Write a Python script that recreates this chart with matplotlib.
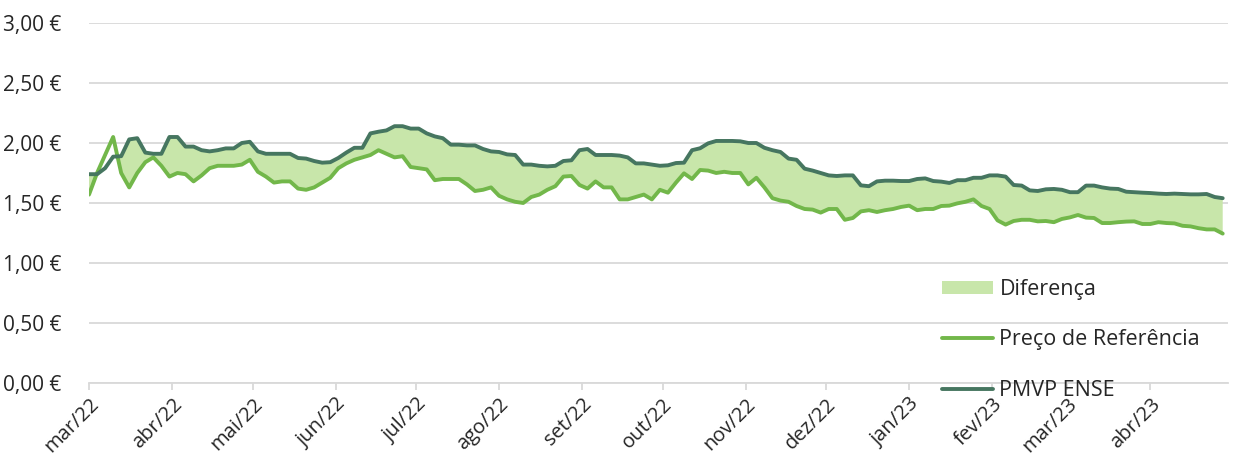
import numpy as np
import matplotlib
matplotlib.use('Agg')
import matplotlib.pyplot as plt
from matplotlib.ticker import FuncFormatter, MultipleLocator

# sampled every 3 days from 1 Mar 2022
start_date = '2022-03-01'
step_days = 3

pmvp_ense = [
    1.74, 1.74, 1.79, 1.886, 1.89, 2.03, 2.04, 1.92, 1.91, 1.91,
    2.05, 2.05, 1.97, 1.97, 1.94, 1.93, 1.94, 1.955, 1.955, 2.00,
    2.01, 1.93, 1.91, 1.91, 1.91, 1.91, 1.875, 1.87, 1.85, 1.836,
    1.84, 1.875, 1.92, 1.96, 1.96, 2.08, 2.094, 2.105, 2.14, 2.14,
    2.12, 2.12, 2.08, 2.055, 2.04, 1.986, 1.986, 1.98, 1.98, 1.95,
    1.93, 1.925, 1.905, 1.90, 1.82, 1.82, 1.81, 1.805, 1.81, 1.85,
    1.856, 1.94, 1.95, 1.90, 1.90, 1.90, 1.895, 1.88, 1.83, 1.83,
    1.82, 1.81, 1.814, 1.833, 1.836, 1.94, 1.956, 1.997, 2.017, 2.017,
    2.017, 2.014, 2.0, 2.0, 1.96, 1.94, 1.925, 1.87, 1.86, 1.786,
    1.77, 1.75, 1.73, 1.725, 1.73, 1.73, 1.647, 1.64, 1.68, 1.686,
    1.686, 1.683, 1.683, 1.70, 1.705, 1.683, 1.678, 1.667, 1.69, 1.69,
    1.71, 1.71, 1.73, 1.73, 1.72, 1.65, 1.645, 1.605, 1.60, 1.614,
    1.617, 1.61, 1.59, 1.59, 1.645, 1.645, 1.63, 1.62, 1.617, 1.594,
    1.59, 1.586, 1.583, 1.578, 1.575, 1.578, 1.575, 1.572, 1.572, 1.575,
    1.55, 1.54,
]

preco_referencia = [
    1.57, 1.75, 1.90, 2.05, 1.75, 1.63, 1.75, 1.84, 1.88, 1.81,
    1.72, 1.75, 1.74, 1.68, 1.73, 1.79, 1.81, 1.81, 1.81, 1.82,
    1.86, 1.76, 1.72, 1.67, 1.68, 1.68, 1.62, 1.61, 1.63, 1.67,
    1.71, 1.79, 1.83, 1.86, 1.88, 1.90, 1.94, 1.91, 1.88, 1.89,
    1.80, 1.79, 1.78, 1.69, 1.70, 1.70, 1.70, 1.655, 1.60, 1.61,
    1.63, 1.56, 1.53, 1.51, 1.50, 1.55, 1.57, 1.61, 1.64, 1.72,
    1.725, 1.65, 1.62, 1.68, 1.63, 1.63, 1.53, 1.53, 1.55, 1.57,
    1.53, 1.61, 1.586, 1.67, 1.747, 1.70, 1.775, 1.77, 1.75, 1.76,
    1.75, 1.75, 1.655, 1.71, 1.63, 1.54, 1.52, 1.51, 1.475, 1.45,
    1.445, 1.42, 1.45, 1.45, 1.36, 1.375, 1.43, 1.44, 1.425, 1.44,
    1.45, 1.467, 1.478, 1.44, 1.45, 1.45, 1.475, 1.478, 1.497, 1.51,
    1.53, 1.475, 1.45, 1.355, 1.32, 1.35, 1.36, 1.36, 1.347, 1.35,
    1.34, 1.367, 1.38, 1.40, 1.378, 1.375, 1.333, 1.333, 1.34, 1.345,
    1.347, 1.325, 1.325, 1.34, 1.333, 1.33, 1.31, 1.305, 1.29, 1.28,
    1.28, 1.245,
]

month_labels = ['mar/22', 'abr/22', 'mai/22', 'jun/22', 'jul/22', 'ago/22', 'set/22',
                'out/22', 'nov/22', 'dez/22', 'jan/23', 'fev/23', 'mar/23', 'abr/23']

LIGHT = '#72b74a'
DARK = '#467660'
FILL = '#c8e6aa'
GRID = '#d9d9d9'
TEXT = '#262626'

plt.rcParams['font.family'] = ['Open Sans', 'DejaVu Sans']


def euro(value, pos):
    return f'{value:.2f}'.replace('.', ',') + ' €'


def main():
    dates = np.datetime64(start_date) + np.arange(len(pmvp_ense)) * np.timedelta64(step_days, 'D')
    pmvp = np.array(pmvp_ense)
    ref = np.array(preco_referencia)

    fig = plt.figure(figsize=(12.33, 4.59), dpi=100)
    ax = fig.add_axes([0.0722, 0.1656, 0.9238, 0.7843])

    ax.fill_between(dates, ref, pmvp, where=pmvp >= ref, interpolate=True,
                    color=FILL, lw=0, label='Diferença')
    ax.plot(dates, ref, color=LIGHT, lw=2.8, label='Preço de Referência',
            solid_capstyle='round', solid_joinstyle='round')
    ax.plot(dates, pmvp, color=DARK, lw=2.8, label='PMVP ENSE',
            solid_capstyle='round', solid_joinstyle='round')

    ax.set_ylim(0, 3)
    ax.yaxis.set_major_locator(MultipleLocator(0.5))
    ax.yaxis.set_major_formatter(FuncFormatter(euro))
    ax.grid(axis='y', color=GRID, lw=1.3)
    ax.set_axisbelow(True)

    ax.set_xlim(np.datetime64('2022-03-01'), np.datetime64('2023-04-30'))
    ticks = np.datetime64('2022-03') + np.arange(len(month_labels)).astype('timedelta64[M]')
    ax.set_xticks(ticks.astype('datetime64[D]'))
    ax.set_xticklabels(month_labels, rotation=45, ha='right', va='top',
                       rotation_mode='anchor')

    for side in ['left', 'right', 'top']:
        ax.spines[side].set_visible(False)
    ax.spines['bottom'].set_color(GRID)
    ax.spines['bottom'].set_linewidth(1.3)
    ax.tick_params(axis='x', length=5, width=1.3, color=GRID, labelsize=14.5,
                   labelcolor=TEXT, pad=3)
    ax.tick_params(axis='y', length=0, labelsize=15, labelcolor=TEXT, pad=20)

    leg = ax.legend(loc='upper left', bbox_to_anchor=(942 / 1233, 1 - 279 / 459),
                    bbox_transform=fig.transFigure, frameon=False, fontsize=15.5,
                    handlelength=2.37, handleheight=0.6, handletextpad=0.3,
                    labelspacing=1.37, borderpad=0, borderaxespad=0)
    for text in leg.get_texts():
        text.set_color(TEXT)

    fig.savefig('out.png', dpi=100)


if __name__ == '__main__':
    main()
